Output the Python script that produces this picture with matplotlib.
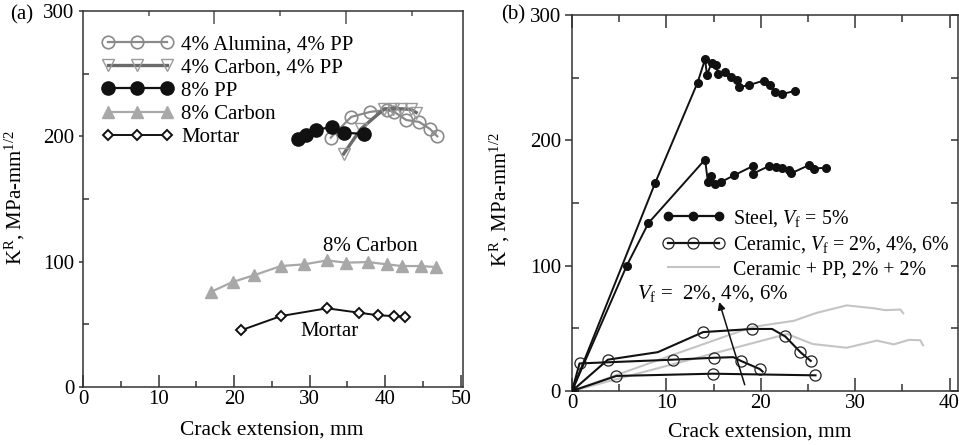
import matplotlib
matplotlib.use("Agg")
import matplotlib.pyplot as plt
from matplotlib.ticker import MultipleLocator, FixedLocator

plt.rcParams["font.family"] = ["Liberation Serif", "DejaVu Serif"]
plt.rcParams["mathtext.fontset"] = "custom"
plt.rcParams["mathtext.rm"] = "Liberation Serif"
plt.rcParams["mathtext.it"] = "Liberation Serif:italic"
plt.rcParams["font.size"] = 15

# ---------------- (a) hybrid fibre composites ----------------
alumina_pp_x = [32.8, 35.5, 38.0, 40.2, 41.2, 42.8, 44.5, 45.9, 46.9]
alumina_pp_y = [199, 215.5, 219.5, 221, 219.5, 213, 211.5, 206, 200]

carbon_pp_x = [34.5, 36.8, 39.9, 41.0, 42.1, 43.4, 44.1]
carbon_pp_y = [186, 206, 222, 222, 222, 221.5, 219]

pp8_x = [28.4, 29.5, 30.8, 32.9, 34.6, 37.2]
pp8_y = [198, 201, 205.3, 207.3, 203, 201.8]

carbon8_x = [16.9, 19.8, 22.6, 26.2, 29.3, 32.3, 34.8, 37.7, 40.2, 42.2, 44.8, 46.7]
carbon8_y = [75.8, 83.8, 89.1, 96.5, 97.9, 101, 99.2, 99.7, 97.9, 96.5, 96.5, 95.7]

mortar_x = [20.9, 26.2, 32.3, 36.5, 39.1, 41.2, 42.6]
mortar_y = [45.2, 56.6, 62.8, 59.3, 57.2, 56.6, 56.1]

# ---------------- (b) steel / ceramic fibres ----------------
steel_hi_x = [0, 8.8, 13.3, 14.1, 14.3, 14.8, 15.3, 15.45, 16.2, 16.8, 17.5, 17.7,
              18.8, 20.3, 21.0, 21.5, 22.2, 23.6]
steel_hi_y = [0, 165.8, 246, 264.7, 252.2, 262, 260.2, 252.7, 254.3, 250.8, 248.2,
              242.4, 244.2, 247.6, 244.2, 238.4, 236.8, 239.4]

steel_lo_x = [0, 5.8, 8.1, 14.1, 14.4, 14.7, 15.1, 15.8, 17.2, 19.2, 19.2, 20.9,
              21.6, 22.3, 23.0, 23.2, 25.1, 25.6, 26.9]
steel_lo_y = [0, 100, 134, 184.7, 166.8, 171.4, 165.2, 166.8, 172.2, 179.6, 173.5,
              179.6, 178.6, 178.3, 176, 173.6, 180.2, 177.5, 178.1]

ceramic6_x = [0, 3.8, 9.1, 13.9, 19.1, 21.2, 22.6, 24.2, 25.3]
ceramic6_y = [0, 25, 31, 47, 49.5, 49.5, 43.5, 31, 24]
ceramic6_marks = [0, 1, 3, 4, 6, 7, 8]

ceramic4_x = [0, 0.8, 10.7, 15.0, 17.1, 17.9, 19.9, 20.2]
ceramic4_y = [0, 22, 25, 26.5, 27, 24, 17.5, 15.5]
ceramic4_marks = [0, 1, 2, 3, 5, 6]

ceramic2_x = [0, 4.7, 14.9, 25.8]
ceramic2_y = [0, 12, 13.8, 12.5]
ceramic2_marks = [0, 1, 2, 3]

cerpp_a_x = [0, 10, 19.05, 23.5, 25.9, 29.1, 32.0, 33.2, 34.8, 35.1]
cerpp_a_y = [0, 27, 51, 56, 62.3, 68.3, 66, 64.5, 65, 62]

cerpp_b_x = [0, 22.8, 25.5, 29.1, 32.3, 34.1, 35.7, 36.9, 37.2]
cerpp_b_y = [0, 45.5, 37.5, 34.5, 40.2, 37.2, 40.8, 40.5, 36.5]

W, H = 959, 445
fig = plt.figure(figsize=(W / 100, H / 100), dpi=100)


def frame(ax, color="#333333"):
    for s in ax.spines.values():
        s.set_color(color)
        s.set_linewidth(1.1)


# ---------- panel (a) ----------
axa = fig.add_axes([83 / W, 1 - 387 / H, 380 / W, 376 / H])
frame(axa)
axa.set_xlim(0, 50.3)
axa.set_ylim(0, 300)

axa.plot(alumina_pp_x, alumina_pp_y, color="#8a8a8a", lw=1.6, marker="o", ms=9,
         mfc="none", mec="#8a8a8a", mew=1.2, label="4% Alumina, 4% PP")
axa.plot(carbon_pp_x, carbon_pp_y, color="#6a6a6a", lw=2.4, marker="v", ms=8.5,
         mfc="none", mec="#9a9a9a", mew=1.0, label="4% Carbon, 4% PP")
axa.plot(pp8_x, pp8_y, color="#111111", lw=1.6, marker="o", ms=9.5,
         mfc="#111111", mec="#111111", label="8% PP")
axa.plot(carbon8_x, carbon8_y, color="#a8a8a8", lw=1.6, marker="^", ms=8,
         mfc="#a8a8a8", mec="#a8a8a8", label="8% Carbon")
axa.plot(mortar_x, mortar_y, color="#111111", lw=1.4, marker="D", ms=5.5,
         mfc="white", mec="#111111", mew=1.4, label="Mortar")

axa.text(38.0, 112, "8% Carbon", ha="center", va="center")
axa.text(32.6, 44, "Mortar", ha="center", va="center")

axa.legend(loc="upper left", bbox_to_anchor=(0.05, 0.9375), frameon=False,
           numpoints=3, handlelength=3.4, handletextpad=0.4, labelspacing=0.18,
           borderpad=0, borderaxespad=0)

axa.xaxis.set_major_locator(MultipleLocator(10))
axa.xaxis.set_minor_locator(MultipleLocator(5))
axa.yaxis.set_major_locator(MultipleLocator(100))
axa.yaxis.set_minor_locator(MultipleLocator(50))
axa.tick_params(axis="x", which="major", direction="in", length=9, width=1.1,
                color="#333333", pad=2.5)
axa.tick_params(axis="x", which="minor", direction="in", length=4.5, width=1.1,
                color="#333333")
axa.tick_params(axis="y", which="major", direction="out", length=3, width=1.1,
                color="#333333", pad=3)
axa.tick_params(axis="y", which="minor", direction="in", length=4, width=1.1,
                color="#333333")

topa = axa.secondary_xaxis("top")
topa.spines["top"].set_visible(False)
topa.xaxis.set_major_locator(FixedLocator([17.4, 34.8]))
topa.xaxis.set_minor_locator(FixedLocator([8.7, 26.1, 43.5]))
topa.tick_params(which="major", direction="in", length=9, width=1.1,
                 color="#555555", labeltop=False)
topa.tick_params(which="minor", direction="in", length=3.5, width=1.1,
                 color="#555555", labeltop=False)

axa.set_xlabel("Crack extension, mm", fontsize=15.5)
axa.set_ylabel(r"K$^{\mathrm{R}}$, MPa-mm$^{1/2}$")
axa.xaxis.set_label_coords(0.497, -0.088)
axa.yaxis.set_label_coords(-0.148, 0.503)

# ---------- panel (b) ----------
axb = fig.add_axes([572 / W, 1 - 391 / H, 386 / W, 376 / H])
frame(axb)
axb.set_xlim(0, 40.9)
axb.set_ylim(0, 300)

axb.plot(cerpp_a_x, cerpp_a_y, color="#c4c4c4", lw=1.5, zorder=2)
axb.plot(cerpp_b_x, cerpp_b_y, color="#c4c4c4", lw=1.5, zorder=2)

for cx, cy, mk in [(ceramic6_x, ceramic6_y, ceramic6_marks),
                   (ceramic4_x, ceramic4_y, ceramic4_marks),
                   (ceramic2_x, ceramic2_y, ceramic2_marks)]:
    axb.plot(cx, cy, color="#111111", lw=1.5, marker="o", ms=8, mfc="none",
             mec="#222222", mew=0.9, markevery=mk, zorder=3)

axb.plot(steel_hi_x, steel_hi_y, color="#111111", lw=1.4, marker="o", ms=5.5,
         mfc="#111111", mec="#111111", zorder=4)
axb.plot(steel_lo_x, steel_lo_y, color="#111111", lw=1.4, marker="o", ms=5.5,
         mfc="#111111", mec="#111111", zorder=4)

h_steel, = axb.plot([], [], color="#111111", lw=1.6, marker="o", ms=6,
                    mfc="#111111", mec="#111111")
h_cer, = axb.plot([], [], color="#111111", lw=1.6, marker="o", ms=8,
                  mfc="none", mec="#222222", mew=0.9)
h_cpp, = axb.plot([], [], color="#c4c4c4", lw=1.5)
axb.legend([h_steel, h_cer, h_cpp],
           [r"Steel, $V_{\mathrm{f}}$ = 5%",
            r"Ceramic, $V_{\mathrm{f}}$ = 2%, 4%, 6%",
            "Ceramic + PP, 2% + 2%"],
           loc="upper left", bbox_to_anchor=(0.232, 0.487), frameon=False,
           numpoints=3, handlelength=3.2, handletextpad=0.4, labelspacing=0.27,
           borderpad=0, borderaxespad=0, fontsize=14.3)

axb.text(6.9, 78, r"$V_{\mathrm{f}}$ =  2%, 4%, 6%", ha="left", va="center")
axb.annotate("", xy=(15.6, 71), xytext=(18.3, 5),
             arrowprops=dict(arrowstyle="-|>", color="#111111", lw=1.1,
                             mutation_scale=11, shrinkA=0, shrinkB=0))

axb.xaxis.set_major_locator(MultipleLocator(10))
axb.xaxis.set_minor_locator(MultipleLocator(5))
axb.yaxis.set_major_locator(MultipleLocator(100))
axb.yaxis.set_minor_locator(MultipleLocator(50))
axb.tick_params(axis="x", which="major", direction="in", length=9.5, width=1.1,
                color="#333333", top=True, pad=2.5)
axb.tick_params(axis="x", which="minor", direction="in", length=5, width=1.1,
                color="#333333", top=True)
axb.tick_params(axis="y", which="major", direction="out", length=5, width=1.1,
                color="#333333", pad=3)
axb.tick_params(axis="y", which="minor", direction="in", length=5, width=1.1,
                color="#333333")

rightb = axb.secondary_yaxis("right")
rightb.spines["right"].set_visible(False)
rightb.yaxis.set_major_locator(MultipleLocator(50))
rightb.tick_params(direction="in", length=5, width=1.1, color="#333333",
                   labelright=False)

axb.set_xlabel("Crack extension, mm", fontsize=15.5)
axb.set_ylabel(r"K$^{\mathrm{R}}$, MPa-mm$^{1/2}$")
axb.xaxis.set_label_coords(0.487, -0.085)
axb.yaxis.set_label_coords(-0.155, 0.51)

fig.text(22 / W, 1 - 15 / H, "(a)", ha="center", va="center")
fig.text(513 / W, 1 - 15 / H, "(b)", ha="center", va="center")

fig.savefig("out.png", dpi=100)
